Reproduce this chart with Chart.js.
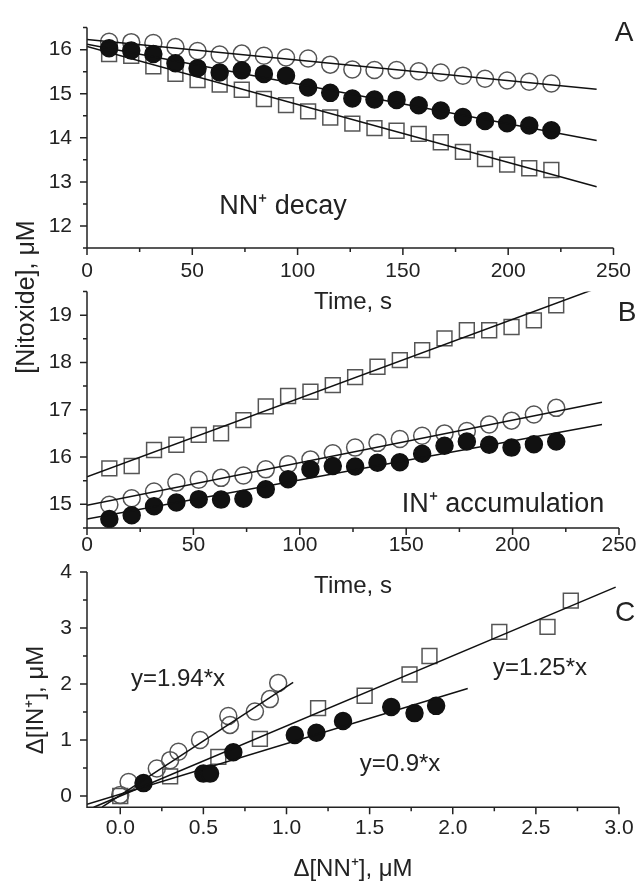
<!DOCTYPE html>
<html>
<head>
<meta charset="utf-8">
<script src="https://cdn.jsdelivr.net/npm/chart.js@4.4.1/dist/chart.umd.min.js"></script>
<style>
  html, body { margin: 0; padding: 0; background: #fff; }
  #fig { position: relative; width: 642px; height: 883px; overflow: hidden; background: #fff; }
  .layer { position: absolute; left: 0; top: 0; width: 642px; height: 883px; }
</style>
</head>
<body>
<div id="fig">
  <div class="layer"><canvas id="chartA"></canvas></div>
  <div class="layer"><canvas id="chartB"></canvas></div>
  <div class="layer"><canvas id="chartC"></canvas></div>
</div>
<script>
// sampling times (s), shared by panels A and B
const time = [10.5, 21, 31.5, 42, 52.5, 63, 73.5, 84, 94.5, 105, 115.5, 126, 136.5, 147, 157.5, 168, 178.5, 189, 199.5, 210, 220.5];

// Panel A - NN+ decay, [Nitoxide] uM
const aSquare = [15.90, 15.86, 15.62, 15.45, 15.31, 15.21, 15.09, 14.88, 14.74, 14.60, 14.46, 14.32, 14.22, 14.16, 14.09, 13.90, 13.68, 13.52, 13.39, 13.31, 13.27];
const aOpen   = [16.18, 16.17, 16.15, 16.06, 15.97, 15.89, 15.91, 15.86, 15.82, 15.80, 15.66, 15.55, 15.54, 15.54, 15.51, 15.48, 15.41, 15.34, 15.30, 15.27, 15.23];
const aFilled = [16.03, 15.98, 15.90, 15.69, 15.58, 15.48, 15.53, 15.45, 15.41, 15.14, 15.02, 14.89, 14.87, 14.86, 14.74, 14.62, 14.47, 14.38, 14.33, 14.28, 14.17];
const aFitX      = [0, 242];
const aFitSquare = [16.07, 12.89];
const aFitOpen   = [16.23, 15.10];
const aFitFilled = [16.12, 13.94];

// Panel B - IN+ accumulation
const bSquare = [15.76, 15.81, 16.15, 16.26, 16.47, 16.50, 16.78, 17.07, 17.29, 17.38, 17.52, 17.69, 17.91, 18.05, 18.26, 18.51, 18.68, 18.68, 18.75, 18.89, 19.21];
const bOpen   = [14.99, 15.13, 15.27, 15.46, 15.52, 15.56, 15.61, 15.74, 15.85, 15.95, 16.08, 16.20, 16.30, 16.38, 16.45, 16.50, 16.55, 16.69, 16.77, 16.90, 17.04];
const bFilled = [14.69, 14.77, 14.96, 15.04, 15.11, 15.10, 15.12, 15.32, 15.53, 15.74, 15.81, 15.80, 15.88, 15.89, 16.07, 16.24, 16.33, 16.26, 16.20, 16.27, 16.33];
const bFitX      = [0, 242];
const bFitSquare = [15.58, 19.61];
const bFitOpen   = [14.98, 17.16];
const bFitFilled = [14.69, 16.69];

// Panel C - d[IN+] vs d[NN+]
const cSquareX = [0.00, 0.30, 0.59, 0.84, 1.19, 1.47, 1.74, 1.86, 2.28, 2.57, 2.71];
const cSquareY = [0.00, 0.35, 0.70, 1.02, 1.57, 1.79, 2.17, 2.50, 2.93, 3.02, 3.49];
const cOpenX   = [0.00, 0.05, 0.22, 0.30, 0.35, 0.48, 0.65, 0.66, 0.81, 0.90, 0.95];
const cOpenY   = [0.02, 0.25, 0.49, 0.64, 0.79, 1.00, 1.43, 1.27, 1.51, 1.73, 2.02];
const cFilledX = [0.14, 0.50, 0.54, 0.68, 1.05, 1.18, 1.34, 1.63, 1.77, 1.90];
const cFilledY = [0.23, 0.40, 0.40, 0.78, 1.09, 1.13, 1.34, 1.59, 1.48, 1.61];
const cFit194X = [-0.11, 1.04], cFit194Y = [-0.20, 2.03];
const cFit125X = [-0.16, 2.98], cFit125Y = [-0.20, 3.73];
const cFit090X = [-0.20, 2.09], cFit090Y = [-0.15, 1.92];

// ticks
const timeTicks = [0, 50, 100, 150, 200, 250];
const timeLabels = ['0', '50', '100', '150', '200', '250'];
const timeMinor = [25, 75, 125, 175, 225];
const aYTicks = [12, 13, 14, 15, 16];
const aYLabels = ['12', '13', '14', '15', '16'];
const aYMinor = [11.5, 12.5, 13.5, 14.5, 15.5, 16.5];
const bYTicks = [15, 16, 17, 18, 19];
const bYLabels = ['15', '16', '17', '18', '19'];
const bYMinor = [14.5, 15.5, 16.5, 17.5, 18.5, 19.5];
const cXTicks = [0, 0.5, 1, 1.5, 2, 2.5, 3];
const cXLabels = ['0.0', '0.5', '1.0', '1.5', '2.0', '2.5', '3.0'];
const cXMinor = [0.25, 0.75, 1.25, 1.75, 2.25, 2.75];
const cYTicks = [0, 1, 2, 3, 4];
const cYLabels = ['0', '1', '2', '3', '4'];
const cYMinor = [0.5, 1.5, 2.5, 3.5];

const FONT = '"Liberation Sans", Arial, Helvetica, sans-serif';
const INK = '#222';

function pts(xs, ys) { return xs.map((x, i) => ({ x: x, y: ys[i] })); }

function markers(xs, ys, kind) {
    const ds = { data: pts(xs, ys), showLine: false, order: 2, borderWidth: 1.5, pointBorderWidth: 1.5 };
    if (kind === 'square') Object.assign(ds, { pointStyle: 'rect', pointRadius: 10.5, borderColor: '#555', backgroundColor: 'rgba(0,0,0,0)', order: 3 });
    if (kind === 'open') Object.assign(ds, { pointStyle: 'circle', pointRadius: 8.5, borderColor: '#555', backgroundColor: 'rgba(0,0,0,0)', order: 2 });
    if (kind === 'filled') Object.assign(ds, { pointStyle: 'circle', pointRadius: 8.5, borderColor: '#111', backgroundColor: '#111', order: 1 });
    return ds;
}
function fitLine(xs, ys) {
    return { data: pts(xs, ys), showLine: true, pointRadius: 0, borderColor: '#111', borderWidth: 1.5, order: 0 };
}

function scale(min, max, ticks, labels, pad, size) {
    return {
        type: 'linear', min: min, max: max,
        grid: { display: false, drawTicks: false },
        border: { display: false },
        afterBuildTicks: s => { s.ticks = ticks.map(v => ({ value: v })); },
        afterFit: s => { if (s.isHorizontal()) s.height = size; else s.width = size; },
        ticks: { padding: pad, color: INK, font: { family: FONT, size: 21 }, maxRotation: 0, autoSkip: false, callback: (v, i) => labels[i] }
    };
}

// axis lines + major/minor tick marks (outward)
const axisMarks = {
    id: 'axisMarks',
    afterDraw(chart, args, o) {
        const ctx = chart.ctx, a = chart.chartArea, xs = chart.scales.x, ys = chart.scales.y;
        ctx.save();
        ctx.strokeStyle = INK; ctx.lineWidth = 1.5;
        ctx.beginPath();
        ctx.moveTo(a.left, a.top); ctx.lineTo(a.left, a.bottom); ctx.lineTo(a.right, a.bottom);
        o.xMajor.forEach(v => { const p = xs.getPixelForValue(v); ctx.moveTo(p, a.bottom); ctx.lineTo(p, a.bottom + 7); });
        o.xMinor.forEach(v => { const p = xs.getPixelForValue(v); ctx.moveTo(p, a.bottom); ctx.lineTo(p, a.bottom + 4); });
        o.yMajor.forEach(v => { const p = ys.getPixelForValue(v); ctx.moveTo(a.left, p); ctx.lineTo(a.left - 7, p); });
        o.yMinor.forEach(v => { const p = ys.getPixelForValue(v); ctx.moveTo(a.left, p); ctx.lineTo(a.left - 4, p); });
        ctx.stroke();
        ctx.restore();
    }
};

// free text (panel letters, annotations, axis titles)
const notes = {
    id: 'notes',
    afterDraw(chart, args, o) {
        const ctx = chart.ctx;
        (o.items || []).forEach(n => {
            ctx.save();
            ctx.font = n.size + 'px ' + FONT;
            ctx.fillStyle = INK;
            ctx.textAlign = 'center';
            ctx.textBaseline = 'middle';
            ctx.translate(n.x, n.y);
            if (n.rot) ctx.rotate(-Math.PI / 2);
            ctx.fillText(n.text, 0, 0);
            ctx.restore();
        });
    }
};

function makeChart(id, datasets, x, y, padTop, padBottom, marks, items) {
    return new Chart(document.getElementById(id), {
        type: 'scatter',
        data: { datasets: datasets },
        plugins: [axisMarks, notes],
        options: {
            responsive: true, maintainAspectRatio: false, animation: false, events: [],
            layout: { padding: { left: 0, right: 23, top: padTop, bottom: padBottom } },
            scales: { x: x, y: y },
            plugins: { legend: { display: false }, tooltip: { enabled: false }, axisMarks: marks, notes: { items: items } }
        }
    });
}

makeChart('chartA', [
    fitLine(aFitX, aFitOpen), fitLine(aFitX, aFitFilled), fitLine(aFitX, aFitSquare),
    markers(time, aSquare, 'square'), markers(time, aOpen, 'open'), markers(time, aFilled, 'filled')
], scale(0, 250, timeTicks, timeLabels, 11, 40), scale(11.5, 16.5, aYTicks, aYLabels, 15, 87), 12, 595,
{ xMajor: timeTicks, xMinor: timeMinor, yMajor: aYTicks, yMinor: aYMinor },
[
    { text: 'A', x: 624, y: 33, size: 28 },
    { text: 'NN\u207A decay', x: 283, y: 207, size: 27 },
    { text: 'Time, s', x: 353, y: 302, size: 24 },
    { text: '[Nitoxide], \u03BCM', x: 27, y: 297, size: 25, rot: true }
]);

makeChart('chartB', [
    fitLine(bFitX, bFitSquare), fitLine(bFitX, bFitOpen), fitLine(bFitX, bFitFilled),
    markers(time, bSquare, 'square'), markers(time, bOpen, 'open'), markers(time, bFilled, 'filled')
], scale(0, 250, timeTicks, timeLabels, 5, 40), scale(14.5, 19.5, bYTicks, bYLabels, 15, 87), 291.5, 315,
{ xMajor: timeTicks, xMinor: timeMinor, yMajor: bYTicks, yMinor: bYMinor },
[
    { text: 'B', x: 627, y: 313, size: 28 },
    { text: 'IN\u207A accumulation', x: 503, y: 505, size: 27 },
    { text: 'Time, s', x: 353, y: 586, size: 24 }
]);

makeChart('chartC', [
    fitLine(cFit194X, cFit194Y), fitLine(cFit125X, cFit125Y), fitLine(cFit090X, cFit090Y),
    markers(cSquareX, cSquareY, 'square'), markers(cOpenX, cOpenY, 'open'), markers(cFilledX, cFilledY, 'filled')
], scale(-0.2, 3.0, cXTicks, cXLabels, 8, 40), scale(-0.2, 4.0, cYTicks, cYLabels, 15, 87), 572, 35.8,
{ xMajor: cXTicks, xMinor: cXMinor, yMajor: cYTicks, yMinor: cYMinor },
[
    { text: 'C', x: 625, y: 613, size: 28 },
    { text: 'y=1.94*x', x: 178, y: 679, size: 24 },
    { text: 'y=1.25*x', x: 540, y: 668, size: 24 },
    { text: 'y=0.9*x', x: 400, y: 764, size: 24 },
    { text: '\u0394[NN\u207A], \u03BCM', x: 353, y: 869, size: 24 },
    { text: '\u0394[IN\u207A], \u03BCM', x: 36, y: 700, size: 24, rot: true }
]);
</script>
</body>
</html>
